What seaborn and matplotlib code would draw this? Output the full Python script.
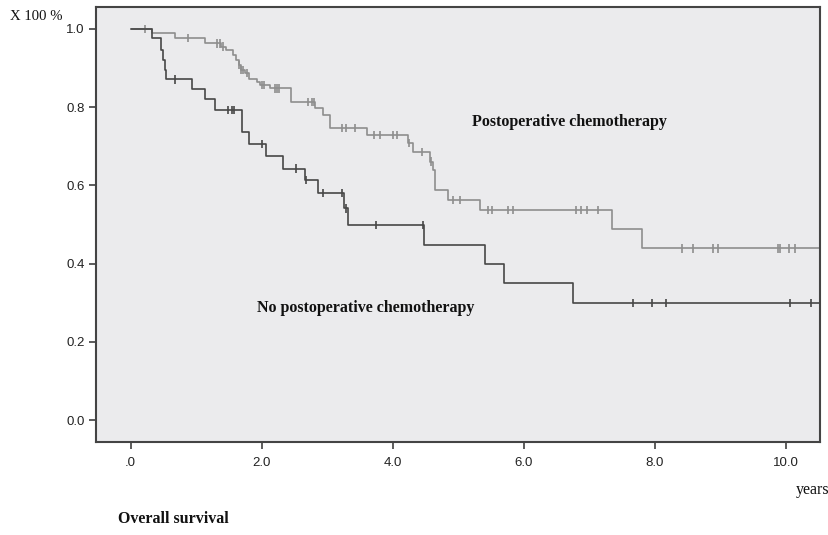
import numpy as np
import pandas as pd
import matplotlib
matplotlib.use("Agg")
import matplotlib.pyplot as plt
import seaborn as sns

# Kaplan-Meier steps (time in years, survival fraction)
chemo_times = [0.0, 0.32, 0.67, 1.13, 1.385, 1.46, 1.56, 1.61, 1.65, 1.69, 1.74, 1.81,
               1.92, 1.97, 2.12, 2.45, 2.81, 2.94, 3.04, 3.60, 4.23, 4.31, 4.565,
               4.62, 4.65, 4.84, 5.33, 7.35, 7.80]
chemo_surv = [1.0, 0.989, 0.976, 0.963, 0.955, 0.946, 0.934, 0.921, 0.908, 0.895, 0.887, 0.872,
              0.865, 0.857, 0.848, 0.814, 0.797, 0.780, 0.746, 0.729, 0.708, 0.686, 0.661,
              0.640, 0.588, 0.563, 0.537, 0.488, 0.439]
chemo_censor = [0.22, 0.875, 1.31, 1.36, 1.41, 1.65, 1.69, 1.72, 1.77, 2.00, 2.03, 2.20,
                2.23, 2.26, 2.71, 2.76, 2.80, 3.22, 3.29, 3.42, 3.72, 3.80, 4.00, 4.06,
                4.25, 4.44, 4.59, 4.92, 5.02, 5.46, 5.51, 5.76, 5.84, 6.80, 6.88, 6.96,
                7.13, 8.41, 8.58, 8.89, 8.97, 9.88, 9.91, 10.04, 10.14]

nochemo_times = [0.0, 0.32, 0.458, 0.49, 0.53, 0.545, 0.93, 1.13, 1.28, 1.70, 1.81, 2.07,
                 2.33, 2.66, 2.86, 3.25, 3.32, 4.47, 5.40, 5.69, 6.75]
nochemo_surv = [1.0, 0.976, 0.946, 0.921, 0.895, 0.871, 0.846, 0.820, 0.793, 0.737, 0.706, 0.675,
                0.643, 0.614, 0.580, 0.541, 0.498, 0.448, 0.399, 0.350, 0.300]
nochemo_censor = [0.67, 1.49, 1.54, 1.58, 2.01, 2.53, 2.68, 2.94, 3.23, 3.29, 3.74, 4.46,
                  7.66, 7.96, 8.17, 10.06, 10.38]

follow_up_end = 10.52
x_ticks = [0, 2, 4, 6, 8, 10]
x_labels = [".0", "2.0", "4.0", "6.0", "8.0", "10.0"]
y_ticks = [0.0, 0.2, 0.4, 0.6, 0.8, 1.0]
y_labels = ["0.0", "0.2", "0.4", "0.6", "0.8", "1.0"]


def km_frame(times, surv, group):
    t = list(times) + [follow_up_end]
    s = list(surv) + [surv[-1]]
    return pd.DataFrame({"time": t, "surv": s, "group": group})


def censor_frame(ctimes, times, surv, group):
    idx = np.searchsorted(times, ctimes, side="right") - 1
    return pd.DataFrame({"time": ctimes, "surv": np.array(surv)[idx], "group": group})


curves = pd.concat([km_frame(chemo_times, chemo_surv, "chemo"),
                    km_frame(nochemo_times, nochemo_surv, "nochemo")])
censors = pd.concat([censor_frame(chemo_censor, chemo_times, chemo_surv, "chemo"),
                     censor_frame(nochemo_censor, nochemo_times, nochemo_surv, "nochemo")])

palette = {"chemo": "#8e8e8e", "nochemo": "#474747"}

sns.set_theme(style="white")
plt.rcParams["font.family"] = ["Liberation Sans", "DejaVu Sans"]

fig = plt.figure(figsize=(8.29, 5.35), dpi=100)
ax = fig.add_axes([0.1158, 0.1738, 0.8733, 0.8131])
ax.set_facecolor("#ebebed")

sns.lineplot(data=curves, x="time", y="surv", hue="group", palette=palette,
             drawstyle="steps-post", estimator=None, sort=False, linewidth=1.2,
             legend=False, ax=ax)
sns.scatterplot(data=censors, x="time", y="surv", hue="group", palette=palette,
                marker="|", s=36, linewidth=1.2, legend=False, ax=ax)

ax.set_xlim(-0.53, 10.52)
ax.set_ylim(-0.056, 1.056)
ax.set_xticks(x_ticks)
ax.set_xticklabels(x_labels)
ax.set_yticks(y_ticks)
ax.set_yticklabels(y_labels)
ax.set_xlabel("")
ax.set_ylabel("")
ax.tick_params(axis="both", direction="out", length=5, width=1.2, color="#404040",
               labelsize=9.5, labelcolor="#222222", pad=3, left=True, bottom=True)
ax.tick_params(axis="x", pad=6)
for sp in ax.spines.values():
    sp.set_color("#444444")
    sp.set_linewidth(1.5)

serif = ["Liberation Serif", "DejaVu Serif"]
ax.text(6.70, 0.762, "Postoperative chemotherapy", fontsize=11.5, fontweight="bold",
        family=serif, ha="center", va="center", color="#111111")
ax.text(3.59, 0.286, "No postoperative chemotherapy", fontsize=11.5, fontweight="bold",
        family=serif, ha="center", va="center", color="#111111")
fig.text(10 / 829, 1 - 17 / 535, "X 100 %", fontsize=10.6, family=serif,
         ha="left", va="center", color="#111111")
fig.text(796 / 829, 1 - 490 / 535, "years", fontsize=11.5, family=serif,
         ha="left", va="center", color="#111111")
fig.text(118 / 829, 1 - 519 / 535, "Overall survival", fontsize=11.5, fontweight="bold",
         family=serif, ha="left", va="center", color="#111111")

fig.savefig("out.png", dpi=100, facecolor="white")
